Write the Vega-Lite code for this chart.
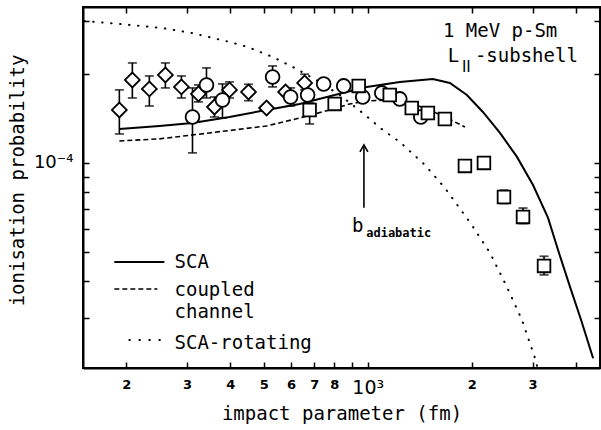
{
  "$schema": "https://vega.github.io/schema/vega-lite/v6.json",
  "width": 517,
  "height": 361,
  "autosize": "none",
  "padding": {"left": 83, "top": 7, "right": 1, "bottom": 62},
  "background": "white",
  "config": {
    "view": {"stroke": "black", "strokeWidth": 2},
    "axis": {
      "domainColor": "black", "domainWidth": 2, "tickColor": "black", "tickWidth": 1.5,
      "labelColor": "black", "titleColor": "black", "grid": false,
      "labelFont": "DejaVu Sans", "titleFont": "DejaVu Sans Mono", "titleFontWeight": "normal"
    }
  },
  "datasets": {
    "curves": [
      {"c": "SCA", "x": 191.1, "y": 1.302e-4}, {"c": "SCA", "x": 249.5, "y": 1.332e-4},
      {"c": "SCA", "x": 311.1, "y": 1.363e-4}, {"c": "SCA", "x": 398.1, "y": 1.428e-4},
      {"c": "SCA", "x": 509.6, "y": 1.508e-4}, {"c": "SCA", "x": 635.3, "y": 1.580e-4},
      {"c": "SCA", "x": 802.3, "y": 1.694e-4}, {"c": "SCA", "x": 993.4, "y": 1.803e-4},
      {"c": "SCA", "x": 1238, "y": 1.874e-4}, {"c": "SCA", "x": 1543, "y": 1.918e-4},
      {"c": "SCA", "x": 1729, "y": 1.859e-4}, {"c": "SCA", "x": 1936, "y": 1.694e-4},
      {"c": "SCA", "x": 2154, "y": 1.485e-4}, {"c": "SCA", "x": 2413, "y": 1.262e-4},
      {"c": "SCA", "x": 2703, "y": 1.048e-4}, {"c": "SCA", "x": 3008, "y": 8.43e-5},
      {"c": "SCA", "x": 3325, "y": 6.53e-5}, {"c": "SCA", "x": 3554, "y": 5.09e-5},
      {"c": "SCA", "x": 3851, "y": 3.82e-5}, {"c": "SCA", "x": 4144, "y": 2.96e-5},
      {"c": "SCA", "x": 4489, "y": 2.20e-5},
      {"c": "CC", "x": 191.1, "y": 1.186e-4}, {"c": "CC", "x": 249.5, "y": 1.205e-4},
      {"c": "CC", "x": 348.4, "y": 1.262e-4}, {"c": "CC", "x": 509.6, "y": 1.332e-4},
      {"c": "CC", "x": 635.3, "y": 1.417e-4}, {"c": "CC", "x": 776.0, "y": 1.508e-4},
      {"c": "CC", "x": 886.7, "y": 1.580e-4}, {"c": "CC", "x": 993.4, "y": 1.617e-4},
      {"c": "CC", "x": 1158, "y": 1.630e-4}, {"c": "CC", "x": 1323, "y": 1.592e-4},
      {"c": "CC", "x": 1512, "y": 1.508e-4}, {"c": "CC", "x": 1694, "y": 1.417e-4},
      {"c": "CC", "x": 1911, "y": 1.322e-4},
      {"c": "ROT", "x": 151.2, "y": 3.007e-4}, {"c": "ROT", "x": 191.1, "y": 2.938e-4},
      {"c": "ROT", "x": 252.9, "y": 2.848e-4}, {"c": "ROT", "x": 309.0, "y": 2.740e-4},
      {"c": "ROT", "x": 398.1, "y": 2.555e-4}, {"c": "ROT", "x": 448.9, "y": 2.458e-4},
      {"c": "ROT", "x": 530.5, "y": 2.275e-4}, {"c": "ROT", "x": 614.4, "y": 2.089e-4},
      {"c": "ROT", "x": 726.0, "y": 1.874e-4}, {"c": "ROT", "x": 829.6, "y": 1.694e-4},
      {"c": "ROT", "x": 967.2, "y": 1.473e-4}, {"c": "ROT", "x": 1105, "y": 1.292e-4},
      {"c": "ROT", "x": 1238, "y": 1.177e-4}, {"c": "ROT", "x": 1463, "y": 9.85e-5},
      {"c": "ROT", "x": 1672, "y": 8.24e-5}, {"c": "ROT", "x": 2001, "y": 6.18e-5},
      {"c": "ROT", "x": 2258, "y": 4.98e-5}, {"c": "ROT", "x": 2529, "y": 3.82e-5},
      {"c": "ROT", "x": 2795, "y": 2.96e-5}, {"c": "ROT", "x": 3049, "y": 2.20e-5},
      {"c": "ROT", "x": 3090, "y": 2.07e-5}
    ],
    "markers": [
      {"s": "D", "x": 191.1, "y": 1.508e-4, "lo": 1.252e-4, "hi": 1.762e-4},
      {"s": "D", "x": 208.4, "y": 1.903e-4, "lo": 1.655e-4, "hi": 2.171e-4},
      {"s": "D", "x": 233.4, "y": 1.775e-4, "lo": 1.555e-4, "hi": 1.963e-4},
      {"s": "D", "x": 259.7, "y": 1.978e-4, "lo": 1.789e-4, "hi": 2.171e-4},
      {"s": "D", "x": 289.0, "y": 1.803e-4, "lo": 1.655e-4, "hi": 1.963e-4},
      {"s": "D", "x": 323.7, "y": 1.708e-4, "lo": 1.605e-4, "hi": 1.831e-4},
      {"s": "D", "x": 360.2, "y": 1.543e-4, "lo": 1.428e-4, "hi": 1.668e-4},
      {"s": "D", "x": 398.1, "y": 1.762e-4, "lo": 1.655e-4, "hi": 1.874e-4},
      {"s": "D", "x": 451.9, "y": 1.734e-4, "lo": 1.620e-4, "hi": 1.840e-4},
      {"s": "D", "x": 509.6, "y": 1.531e-4, "lo": null, "hi": null},
      {"s": "D", "x": 578.6, "y": 1.734e-4, "lo": null, "hi": null},
      {"s": "D", "x": 656.8, "y": 1.859e-4, "lo": 1.762e-4, "hi": 1.990e-4},
      {"s": "C", "x": 311.1, "y": 1.428e-4, "lo": 1.081e-4, "hi": 1.789e-4},
      {"s": "C", "x": 341.5, "y": 1.831e-4, "lo": 1.655e-4, "hi": 2.089e-4},
      {"s": "C", "x": 379.9, "y": 1.630e-4, "lo": 1.417e-4, "hi": 1.845e-4},
      {"s": "C", "x": 530.5, "y": 1.948e-4, "lo": 1.803e-4, "hi": 2.121e-4},
      {"s": "C", "x": 598.2, "y": 1.668e-4, "lo": 1.555e-4, "hi": 1.789e-4},
      {"s": "C", "x": 670.0, "y": 1.694e-4, "lo": null, "hi": null},
      {"s": "C", "x": 745.6, "y": 1.845e-4, "lo": null, "hi": null},
      {"s": "C", "x": 852.0, "y": 1.817e-4, "lo": null, "hi": null},
      {"s": "C", "x": 967.2, "y": 1.668e-4, "lo": null, "hi": null},
      {"s": "C", "x": 1098, "y": 1.721e-4, "lo": null, "hi": null},
      {"s": "C", "x": 1238, "y": 1.643e-4, "lo": null, "hi": null},
      {"s": "C", "x": 1424, "y": 1.428e-4, "lo": null, "hi": null},
      {"s": "S", "x": 679.0, "y": 1.508e-4, "lo": 1.353e-4, "hi": 1.592e-4},
      {"s": "S", "x": 802.3, "y": 1.580e-4, "lo": null, "hi": null},
      {"s": "S", "x": 941.7, "y": 1.817e-4, "lo": 1.748e-4, "hi": 1.900e-4},
      {"s": "S", "x": 1158, "y": 1.694e-4, "lo": null, "hi": null},
      {"s": "S", "x": 1341, "y": 1.531e-4, "lo": null, "hi": null},
      {"s": "S", "x": 1493, "y": 1.473e-4, "lo": null, "hi": null},
      {"s": "S", "x": 1672, "y": 1.406e-4, "lo": null, "hi": null},
      {"s": "S", "x": 1911, "y": 9.77e-5, "lo": null, "hi": null},
      {"s": "S", "x": 2169, "y": 1.0e-4, "lo": null, "hi": null},
      {"s": "S", "x": 2479, "y": 7.68e-5, "lo": 7.3e-5, "hi": 8.1e-5},
      {"s": "S", "x": 2814, "y": 6.58e-5, "lo": 6.25e-5, "hi": 7.05e-5},
      {"s": "S", "x": 3237, "y": 4.50e-5, "lo": 4.20e-5, "hi": 4.85e-5}
    ],
    "key": [
      {"k": "SCA", "x": 184.8, "x2": 258.0, "y": 4.64e-5},
      {"k": "CC", "x": 184.8, "x2": 246.2, "y": 3.765e-5},
      {"k": "ROT", "x": 204.3, "x2": 250.5, "y": 2.535e-5}
    ],
    "texts": [
      {"t": "1 MeV p-Sm", "x": 1650, "y": 2.656e-4, "g": "big"},
      {"t": "L", "x": 1705, "y": 2.188e-4, "g": "big"},
      {"t": "II", "x": 1873, "y": 2.025e-4, "g": "sub"},
      {"t": "-subshell", "x": 2042, "y": 2.188e-4, "g": "big"},
      {"t": "SCA", "x": 276, "y": 4.43e-5, "g": "big"},
      {"t": "coupled", "x": 276, "y": 3.566e-5, "g": "big"},
      {"t": "channel", "x": 276, "y": 3.007e-5, "g": "big"},
      {"t": "SCA-rotating", "x": 276, "y": 2.364e-5, "g": "big"},
      {"t": "b", "x": 900, "y": 5.86e-5, "g": "big"},
      {"t": "adiabatic", "x": 990, "y": 5.63e-5, "g": "small"}
    ],
    "arrow": [
      {"x": 975, "y": 7.06e-5, "y2": 1.15e-4}
    ]
  },
  "resolve": {"axis": {"x": "independent", "y": "independent"}},
  "layer": [
    {
      "data": {"name": "curves"},
      "transform": [{"filter": "datum.c == 'SCA'"}],
      "mark": {"type": "line", "color": "black", "strokeWidth": 2, "clip": true},
      "encoding": {
        "x": {"field": "x", "type": "quantitative",
          "scale": {"type": "log", "domain": [150, 4700], "nice": false},
          "axis": {"orient": "bottom", "values": [200, 300, 400, 500, 600, 700, 800, 900, 1000, 2000, 3000, 4000],
            "labelExpr": "datum.value == 1000 ? '10³' : ((datum.value == 900 || datum.value == 4000) ? '' : format(datum.value < 1000 ? datum.value / 100 : datum.value / 1000, 'd'))",
            "labelFontSize": {"condition": {"test": "datum.value == 1000", "value": 19}, "value": 13},
            "labelFontWeight": {"condition": {"test": "datum.value == 1000", "value": "normal"}, "value": "bold"},
            "labelBaseline": "top", "labelPadding": 16, "labelOverlap": false, "labelFlush": false,
            "tickSize": -6,
            "title": "impact parameter (fm)", "titleFontSize": 19, "titleY": 51, "titleBaseline": "alphabetic"}},
        "y": {"field": "y", "type": "quantitative",
          "scale": {"type": "log", "domain": [2.04e-5, 3.35e-4], "nice": false},
          "axis": {"orient": "left", "values": [3e-5, 4e-5, 5e-5, 6e-5, 7e-5, 8e-5, 9e-5, 0.0001, 0.0002, 0.0003],
            "labelExpr": "datum.value == 0.0001 ? '10⁻⁴' : ''",
            "labelFontSize": 18, "labelPadding": 16, "labelOverlap": false, "labelFlush": false,
            "tickSize": -6,
            "title": "ionisation probability", "titleFontSize": 19, "titleX": -60, "titleY": 173,
            "titleBaseline": "alphabetic", "titleAngle": 270}}
      }
    },
    {
      "data": {"name": "curves"},
      "transform": [{"filter": "datum.c == 'CC'"}],
      "mark": {"type": "line", "color": "black", "strokeWidth": 1.6, "strokeDash": [5, 3], "clip": true},
      "encoding": {
        "x": {"field": "x", "type": "quantitative",
          "scale": {"type": "log", "domain": [150, 4700], "nice": false},
          "axis": {"orient": "top", "values": [200, 300, 400, 500, 600, 700, 800, 900, 1000, 2000, 3000, 4000],
            "labels": false, "title": null, "tickSize": -6}},
        "y": {"field": "y", "type": "quantitative",
          "scale": {"type": "log", "domain": [2.04e-5, 3.35e-4], "nice": false},
          "axis": {"orient": "right", "values": [3e-5, 4e-5, 5e-5, 6e-5, 7e-5, 8e-5, 9e-5, 0.0001, 0.0002, 0.0003],
            "labels": false, "title": null, "tickSize": -6}}
      }
    },
    {
      "data": {"name": "curves"},
      "transform": [{"filter": "datum.c == 'ROT'"}],
      "mark": {"type": "line", "color": "black", "strokeWidth": 2, "strokeDash": [0.5, 8.5], "strokeCap": "round", "clip": true},
      "encoding": {
        "x": {"field": "x", "type": "quantitative", "scale": {"type": "log", "domain": [150, 4700], "nice": false}, "axis": null},
        "y": {"field": "y", "type": "quantitative", "scale": {"type": "log", "domain": [2.04e-5, 3.35e-4], "nice": false}, "axis": null}
      }
    },
    {
      "data": {"name": "markers"},
      "transform": [{"filter": "datum.lo != null"}],
      "mark": {"type": "rule", "color": "black", "strokeWidth": 1.6},
      "encoding": {
        "x": {"field": "x", "type": "quantitative", "scale": {"type": "log", "domain": [150, 4700], "nice": false}, "axis": null},
        "y": {"field": "lo", "type": "quantitative", "scale": {"type": "log", "domain": [2.04e-5, 3.35e-4], "nice": false}, "axis": null},
        "y2": {"field": "hi"}
      }
    },
    {
      "data": {"name": "markers"},
      "transform": [{"filter": "datum.lo != null"}],
      "mark": {"type": "tick", "orient": "horizontal", "color": "black", "size": 9, "thickness": 1.8},
      "encoding": {
        "x": {"field": "x", "type": "quantitative", "scale": {"type": "log", "domain": [150, 4700], "nice": false}, "axis": null},
        "y": {"field": "lo", "type": "quantitative", "scale": {"type": "log", "domain": [2.04e-5, 3.35e-4], "nice": false}, "axis": null}
      }
    },
    {
      "data": {"name": "markers"},
      "transform": [{"filter": "datum.hi != null"}],
      "mark": {"type": "tick", "orient": "horizontal", "color": "black", "size": 9, "thickness": 1.8},
      "encoding": {
        "x": {"field": "x", "type": "quantitative", "scale": {"type": "log", "domain": [150, 4700], "nice": false}, "axis": null},
        "y": {"field": "hi", "type": "quantitative", "scale": {"type": "log", "domain": [2.04e-5, 3.35e-4], "nice": false}, "axis": null}
      }
    },
    {
      "data": {"name": "markers"},
      "mark": {"type": "point", "filled": true, "fill": "white", "stroke": "black", "strokeWidth": 1.8, "opacity": 1},
      "encoding": {
        "x": {"field": "x", "type": "quantitative", "scale": {"type": "log", "domain": [150, 4700], "nice": false}, "axis": null},
        "y": {"field": "y", "type": "quantitative", "scale": {"type": "log", "domain": [2.04e-5, 3.35e-4], "nice": false}, "axis": null},
        "shape": {"field": "s", "type": "nominal", "scale": {"domain": ["D", "C", "S"], "range": ["diamond", "circle", "square"]}, "legend": null},
        "size": {"field": "s", "type": "ordinal", "scale": {"domain": ["D", "C", "S"], "range": [220, 160, 135]}, "legend": null}
      }
    },
    {
      "data": {"name": "key"},
      "transform": [{"filter": "datum.k == 'SCA'"}],
      "mark": {"type": "rule", "color": "black", "strokeWidth": 2},
      "encoding": {
        "x": {"field": "x", "type": "quantitative", "scale": {"type": "log", "domain": [150, 4700], "nice": false}, "axis": null},
        "x2": {"field": "x2"},
        "y": {"field": "y", "type": "quantitative", "scale": {"type": "log", "domain": [2.04e-5, 3.35e-4], "nice": false}, "axis": null}
      }
    },
    {
      "data": {"name": "key"},
      "transform": [{"filter": "datum.k == 'CC'"}],
      "mark": {"type": "rule", "color": "black", "strokeWidth": 1.6, "strokeDash": [5, 3]},
      "encoding": {
        "x": {"field": "x", "type": "quantitative", "scale": {"type": "log", "domain": [150, 4700], "nice": false}, "axis": null},
        "x2": {"field": "x2"},
        "y": {"field": "y", "type": "quantitative", "scale": {"type": "log", "domain": [2.04e-5, 3.35e-4], "nice": false}, "axis": null}
      }
    },
    {
      "data": {"name": "key"},
      "transform": [{"filter": "datum.k == 'ROT'"}],
      "mark": {"type": "rule", "color": "black", "strokeWidth": 2, "strokeDash": [0.5, 9.5], "strokeCap": "round"},
      "encoding": {
        "x": {"field": "x", "type": "quantitative", "scale": {"type": "log", "domain": [150, 4700], "nice": false}, "axis": null},
        "x2": {"field": "x2"},
        "y": {"field": "y", "type": "quantitative", "scale": {"type": "log", "domain": [2.04e-5, 3.35e-4], "nice": false}, "axis": null}
      }
    },
    {
      "data": {"name": "texts"},
      "transform": [{"filter": "datum.g == 'big'"}],
      "mark": {"type": "text", "align": "left", "baseline": "alphabetic", "font": "DejaVu Sans Mono", "fontSize": 19, "color": "black"},
      "encoding": {
        "x": {"field": "x", "type": "quantitative", "scale": {"type": "log", "domain": [150, 4700], "nice": false}, "axis": null},
        "y": {"field": "y", "type": "quantitative", "scale": {"type": "log", "domain": [2.04e-5, 3.35e-4], "nice": false}, "axis": null},
        "text": {"field": "t"}
      }
    },
    {
      "data": {"name": "texts"},
      "transform": [{"filter": "datum.g == 'sub'"}],
      "mark": {"type": "text", "align": "left", "baseline": "alphabetic", "font": "DejaVu Sans", "fontSize": 15, "color": "black"},
      "encoding": {
        "x": {"field": "x", "type": "quantitative", "scale": {"type": "log", "domain": [150, 4700], "nice": false}, "axis": null},
        "y": {"field": "y", "type": "quantitative", "scale": {"type": "log", "domain": [2.04e-5, 3.35e-4], "nice": false}, "axis": null},
        "text": {"field": "t"}
      }
    },
    {
      "data": {"name": "texts"},
      "transform": [{"filter": "datum.g == 'small'"}],
      "mark": {"type": "text", "align": "left", "baseline": "alphabetic", "font": "DejaVu Sans Mono", "fontSize": 12, "fontWeight": "bold", "color": "black"},
      "encoding": {
        "x": {"field": "x", "type": "quantitative", "scale": {"type": "log", "domain": [150, 4700], "nice": false}, "axis": null},
        "y": {"field": "y", "type": "quantitative", "scale": {"type": "log", "domain": [2.04e-5, 3.35e-4], "nice": false}, "axis": null},
        "text": {"field": "t"}
      }
    },
    {
      "data": {"name": "arrow"},
      "mark": {"type": "rule", "color": "black", "strokeWidth": 1.6},
      "encoding": {
        "x": {"field": "x", "type": "quantitative", "scale": {"type": "log", "domain": [150, 4700], "nice": false}, "axis": null},
        "y": {"field": "y", "type": "quantitative", "scale": {"type": "log", "domain": [2.04e-5, 3.35e-4], "nice": false}, "axis": null},
        "y2": {"field": "y2"}
      }
    },
    {
      "data": {"name": "arrow"},
      "mark": {"type": "point", "shape": "M-0.57,1L0,0L0.57,1", "size": 196, "filled": false, "stroke": "black", "strokeWidth": 1.6, "opacity": 1},
      "encoding": {
        "x": {"field": "x", "type": "quantitative", "scale": {"type": "log", "domain": [150, 4700], "nice": false}, "axis": null},
        "y": {"field": "y2", "type": "quantitative", "scale": {"type": "log", "domain": [2.04e-5, 3.35e-4], "nice": false}, "axis": null}
      }
    }
  ]
}
